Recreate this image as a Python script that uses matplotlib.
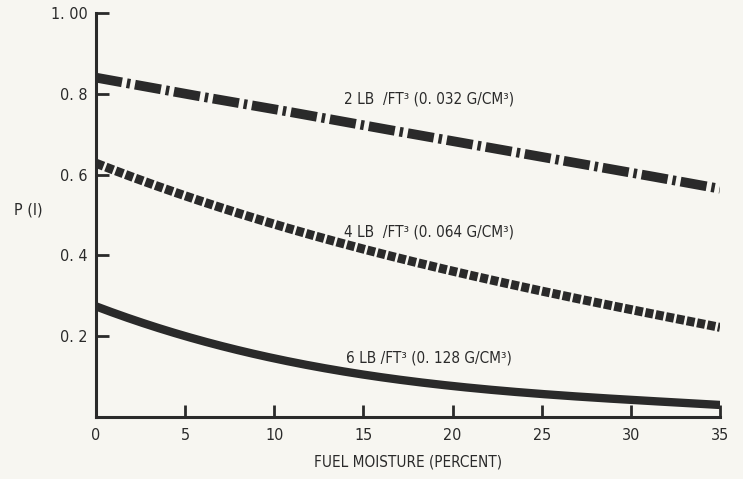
import numpy as np
import matplotlib
matplotlib.use("Agg")
import matplotlib.pyplot as plt
from numpy.polynomial import polynomial as P

plt.rcParams['font.family'] = ['DejaVu Sans']
plt.rcParams['font.stretch'] = 'condensed'
plt.rcParams['lines.scale_dashes'] = False

# fuel moisture (percent)
moisture = [0, 5, 10, 15, 20, 25, 30, 35]

# P(I) for each fuel bed density
p_2lb = [0.84, 0.80, 0.762, 0.722, 0.683, 0.644, 0.605, 0.565]
p_4lb = [0.627, 0.55, 0.478, 0.41, 0.365, 0.312, 0.265, 0.222]
p_6lb = [0.274, 0.20, 0.145, 0.105, 0.077, 0.057, 0.042, 0.03]

labels = ["2 LB  /FT³ (0. 032 G/CM³)",
          "4 LB  /FT³ (0. 064 G/CM³)",
          "6 LB /FT³ (0. 128 G/CM³)"]
label_pos = [(13.9, 0.788), (13.9, 0.458), (14.0, 0.146)]

xticks = [0, 5, 10, 15, 20, 25, 30, 35]
yticks = [0.2, 0.4, 0.6, 0.8, 1.0]
ytick_labels = ["0. 2", "0. 4", "0. 6", "0. 8", "1. 00"]

bg = '#f7f6f1'
ink = '#2a2a2a'

fig = plt.figure(figsize=(7.43, 4.79), dpi=100, facecolor=bg)
ax = fig.add_axes([96 / 743, 62 / 479, 624 / 743, 404 / 479])
ax.set_facecolor(bg)

# smooth curves through the read-off points
xs = np.linspace(0, 35, 200)
ax.plot(xs, np.interp(xs, moisture, p_2lb), color=ink, lw=7,
        dashes=(19, 3.5, 2.5, 3.5), solid_capstyle='butt', dash_capstyle='butt')
c4 = P.polyfit(moisture, p_4lb, 3)
c6 = P.polyfit(moisture, p_6lb, 3)
ax.plot(xs, P.polyval(xs, c4), color=ink, lw=6.5,
        dashes=(5.8, 1.8), dash_capstyle='butt')
ax.plot(xs, P.polyval(xs, c6), color=ink, lw=6, solid_capstyle='butt')

for txt, (x, y) in zip(labels, label_pos):
    ax.text(x, y, txt, fontsize=11, color=ink, va='center', ha='left')

ax.set_xlim(0, 35)
ax.set_ylim(0, 1.0)
ax.set_xticks(xticks)
ax.set_xticklabels([str(t) for t in xticks])
ax.set_yticks(yticks)
ax.set_yticklabels(ytick_labels)
ax.tick_params(direction='in', length=9, width=2, colors=ink, labelsize=11.5)
ax.tick_params(axis='x', pad=8)
ax.tick_params(axis='y', pad=6)

for s in ['top', 'right']:
    ax.spines[s].set_visible(False)
for s in ['left', 'bottom']:
    ax.spines[s].set_linewidth(2.2)
    ax.spines[s].set_color(ink)

ax.set_xlabel("FUEL MOISTURE (PERCENT)", fontsize=11, color=ink, labelpad=8)
fig.text(28 / 743, 1 - 210 / 479, "P (I)", fontsize=11.5, color=ink,
         ha='center', va='center')

fig.savefig("out.png", dpi=100, facecolor=bg)
